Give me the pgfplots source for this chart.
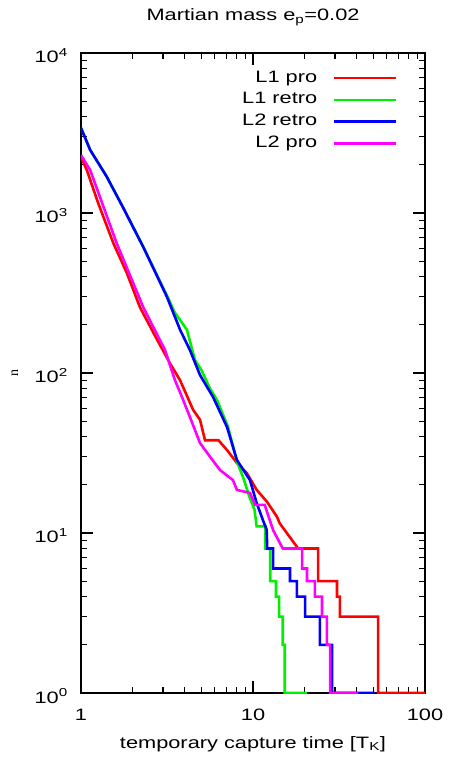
\documentclass[border=0pt]{standalone}
\usepackage{fontspec}
\setmainfont{Liberation Sans}[FakeStretch=1.32]
\newfontfamily\seriffont{Liberation Serif}
\usepackage{pgfplots}
\pgfplotsset{compat=1.18}

\definecolor{gpred}{RGB}{255,0,0}
\definecolor{gpgreen}{RGB}{0,240,0}
\definecolor{gpblue}{RGB}{0,0,255}
\definecolor{gpmagenta}{RGB}{255,0,255}

\begin{document}
\begin{tikzpicture}[font=\fontsize{16.5}{19}\selectfont]
\useasboundingbox (-81pt,-69pt) rectangle (369pt,693pt);
\begin{loglogaxis}[
  at={(0pt,0pt)}, anchor=south west,
  scale only axis, width=344pt, height=640pt,
  xmin=1, xmax=100, ymin=1, ymax=10000,
  font=\fontsize{16.5}{19}\selectfont,
  tick label style={font=\fontsize{16.5}{19}\selectfont, inner sep=0pt},
  xticklabel style={anchor=base, yshift=-27pt},
  yticklabel style={anchor=base east, xshift=-13pt, yshift=-10pt},
  axis line style={line width=1.6pt},
  tick align=inside,
  major tick length=12pt, minor tick length=6pt,
  every tick/.style={black, line width=1.2pt},
  xtick={1,10,100}, xticklabels={1,10,100},
  minor xtick={2,3,4,5,6,7,8,9,20,30,40,50,60,70,80,90},
  ytick={1,10,100,1000,10000},
  yticklabels={10\textsuperscript{0},10\textsuperscript{1},10\textsuperscript{2},10\textsuperscript{3},10\textsuperscript{4}},
  minor ytick={2,3,4,5,6,7,8,9,20,30,40,50,60,70,80,90,200,300,400,500,600,700,800,900,2000,3000,4000,5000,6000,7000,8000,9000},
  title={Martian mass e\textsubscript{p}=0.02},
  title style={font=\fontsize{16.5}{19}\selectfont,
    at={(axis description cs:0.5,1)}, anchor=base, yshift=26pt},
  xlabel={temporary capture time [T\textsubscript{K}]},
  xlabel style={font=\fontsize{16.5}{19}\selectfont,
    at={(axis description cs:0.5,0)}, anchor=base, yshift=-55pt},
  ylabel={n},
  ylabel style={font=\fontsize{14}{16}\selectfont\seriffont,
    at={(axis description cs:-0.192,0.5)}, anchor=center},
  legend style={draw=none, fill=none, inner sep=0pt,
    font=\fontsize{16.5}{19}\selectfont,
    at={(axis description cs:1,1)}, anchor=north east,
    xshift=-28pt, yshift=-17pt, row sep=5.7pt,
    nodes={inner sep=0pt, text height=12pt, text depth=4pt}},
  legend plot pos=right,
  legend cell align=right,
  legend image code/.code={\path (0pt,0pt); \draw[#1] (15pt,0pt) -- (77pt,0pt);},
  every axis plot/.append style={line width=2.6pt},
]
\addplot[gpred] coordinates {
  (1,2240) (1.08,1860) (1.26,1150) (1.54,650) (1.85,420) (2.2,258) (2.7,170)
  (3.29,115) (3.77,90) (4.48,59) (4.92,51) (5.26,38) (6.3,38)
  (7.06,33) (8.06,27.4) (9.2,23.7) (10.5,18.6) (12.1,15.6) (13.8,12.6)
  (14.3,11.5) (16.4,9.4) (18.3,8) (23.9,8) (23.9,5) (30.8,5) (30.8,4)
  (32,4) (32,3) (53.4,3) (53.4,1) (100,1)
};
\addlegendentry{L1 pro}
\addplot[gpgreen] coordinates {
  (1,3400) (1.13,2480) (1.41,1690) (1.75,1090) (2.3,614) (3.16,305)
  (3.5,240) (4.13,186) (4.6,120) (5.0,105) (5.62,80) (6.17,68)
  (7.16,46) (8.06,28) (8.8,22) (9.5,17) (10.2,14) (10.5,11) (11.8,11)
  (11.8,8) (12.6,8) (12.6,5) (13.6,5) (13.6,4) (14.2,4) (14.2,3)
  (14.9,3) (14.9,2) (15.3,2) (15.3,1) (20.6,1)
};
\addlegendentry{L1 retro}
\addplot[gpblue] coordinates {
  (1,3400) (1.13,2480) (1.41,1690) (1.75,1090) (2.3,614) (3.16,299)
  (3.77,186) (4.3,139) (4.92,97) (5.85,71) (7.06,46) (8.06,28.6)
  (9.6,21.4) (10.5,15.4) (11.4,12.1) (12.0,10.5) (12.1,8) (13.1,8)
  (13.1,6) (16.4,6) (16.4,5) (18.0,5) (18.0,4) (20.1,4) (20.1,3)
  (24.5,3) (24.5,2) (28.8,2) (28.8,1) (51,1)
};
\addlegendentry{L2 retro}
\addplot[gpmagenta] coordinates {
  (1,2300) (1.13,1860) (1.61,650) (2.3,258) (3.08,139) (3.52,90)
  (3.86,71) (4.3,53) (4.92,36.5) (5.62,30) (6.44,24.7) (7.65,21.4)
  (8.06,18.6) (9.6,17.8) (10.3,15) (11.7,15) (13.1,10.4) (14.9,8)
  (19.3,8) (19.3,6) (20.6,6) (20.6,5) (22.9,5) (22.9,4) (25.2,4)
  (25.2,3) (26.9,3) (26.9,2) (28.1,2) (28.1,1) (40.8,1)
};
\addlegendentry{L2 pro}
\end{loglogaxis}
\end{tikzpicture}
\end{document}
